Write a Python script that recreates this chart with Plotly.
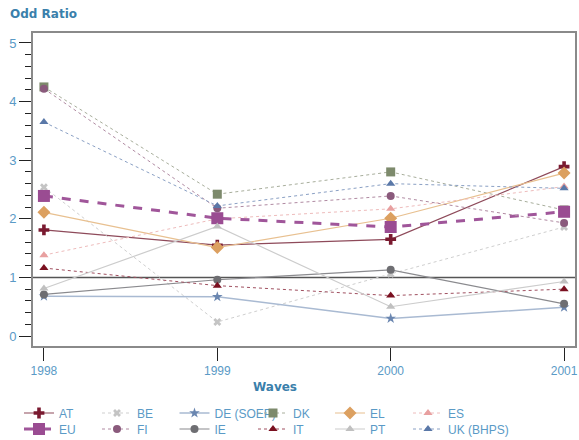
import plotly.graph_objects as go

waves = [1998, 1999, 2000, 2001]
AT = [1.81, 1.55, 1.65, 2.89]
BE = [2.54, 0.24, 1.06, 1.86]
DE = [0.68, 0.67, 0.30, 0.49]
DK = [4.25, 2.42, 2.80, 2.15]
EL = [2.11, 1.51, 2.01, 2.78]
ES = [1.38, 2.00, 2.17, 2.55]
EU = [2.39, 2.01, 1.86, 2.12]
FI = [4.22, 2.18, 2.39, 1.93]
IE = [0.71, 0.96, 1.13, 0.55]
IT = [1.16, 0.86, 0.69, 0.80]
PT = [0.81, 1.87, 0.50, 0.93]
UK = [3.65, 2.22, 2.60, 2.52]

series = [
    ("AT", AT, "cross", "#7a1a30", "#8e4a5a", "solid", 1.2, 9),
    ("BE", BE, "x", "#c4c4c4", "#cfcfcf", "dot", 1.0, 7),
    ("DE (SOEP)", DE, "star", "#6a86b0", "#a9bad2", "solid", 1.5, 8),
    ("DK", DK, "square", "#7d8a6c", "#a8ae9c", "dot", 1.0, 9),
    ("EL", EL, "diamond", "#dca060", "#e8c090", "solid", 1.2, 10),
    ("ES", ES, "triangle-up", "#e8a0a0", "#eebcbc", "dot", 1.0, 8),
    ("EU", EU, "square", "#9a4c92", "#a0569a", "dash", 3.0, 12),
    ("FI", FI, "circle", "#8a5a7c", "#b08aa2", "dot", 1.0, 8),
    ("IE", IE, "circle", "#6e6e72", "#8a8a8e", "solid", 1.2, 8),
    ("IT", IT, "triangle-up", "#7a1020", "#a05060", "dot", 1.0, 8),
    ("PT", PT, "triangle-up", "#c0c0c0", "#cccccc", "solid", 1.2, 8),
    ("UK (BHPS)", UK, "triangle-up", "#5a78a8", "#8aa0c4", "dot", 1.0, 8),
]

# legend grid (page pixels): symbol centre x / text start x for 6 columns, 2 rows
col_sym = [40, 119, 197, 275, 352, 430]
col_txt = [57, 134, 211, 290, 367, 445]
row_y = [413, 429]

W, H = 579, 440

fig = go.Figure()
legends = {}
for i, (name, vals, sym, mcol, lcol, dash, lw, ms) in enumerate(series):
    key = "legend" if i == 0 else f"legend{i+1}"
    fig.add_trace(go.Scatter(
        x=waves, y=vals, name=name, mode="lines+markers",
        line=dict(color=lcol, width=lw, dash=dash),
        marker=dict(symbol=sym, color=mcol, size=ms, line=dict(width=0)),
        legend=key,
    ))
    c, r = i % 6, i // 6
    lx = ((col_sym[c] - 19) + (col_txt[c] - 40)) / 2
    legends[key] = dict(orientation="h", xref="container", x=lx / W, xanchor="left",
                        yref="container", y=1 - row_y[r] / H, yanchor="middle",
                        itemwidth=30, bgcolor="rgba(0,0,0,0)",
                        font=dict(size=12, color="#5a9ac6"))

fig.add_hline(y=1, line=dict(color="#555555", width=1.5), layer="below")

fig.update_layout(
    width=W, height=H,
    margin=dict(l=33, r=4, t=33, b=94, autoexpand=False),
    paper_bgcolor="white", plot_bgcolor="white",
    font=dict(family="Liberation Sans, Arial, sans-serif", size=12, color="#4f93c0"),
    title=dict(text="<b>Odd Ratio</b>", x=10/W, xanchor="left",
               y=1-14/H, yanchor="middle", yref="container",
               font=dict(family="DejaVu Sans", size=12, color="#3a80ab")),
    showlegend=True,
    annotations=[dict(text="<b>Waves</b>", xref="paper", yref="paper",
                      x=(275-33)/542, y=0, yshift=-41, yanchor="middle",
                      showarrow=False,
                      font=dict(family="DejaVu Sans", size=12, color="#3a80ab"))],
)
fig.update_layout(**legends)

fig.update_xaxes(
    range=[1997.937, 2001.063], tickvals=waves, ticktext=[str(w) for w in waves],
    ticks="outside", ticklen=13, tickcolor="#222222", tickwidth=1,
    showline=True, linecolor="#8a8a8a", linewidth=2, mirror=True,
    showgrid=False, zeroline=False, automargin=False, ticklabeloverflow="allow",
    tickfont=dict(size=12, color="#5a9ac6"),
)
fig.update_yaxes(
    range=[-0.17, 5.17], tickvals=[0, 1, 2, 3, 4, 5],
    ticks="outside", ticklen=12, tickcolor="#222222", tickwidth=1,
    minor=dict(dtick=0.2, ticks="outside", ticklen=6, tickcolor="#222222", tickwidth=1, showgrid=False),
    showline=True, linecolor="#8a8a8a", linewidth=2, mirror=True,
    showgrid=False, zeroline=False, ticklabelstandoff=0, automargin=False,
    tickfont=dict(size=13, color="#5a9ac6"),
)

fig.write_html("out.html", config={"displayModeBar": False},
               post_script="document.body.style.margin='0';document.body.style.overflow='hidden';")
